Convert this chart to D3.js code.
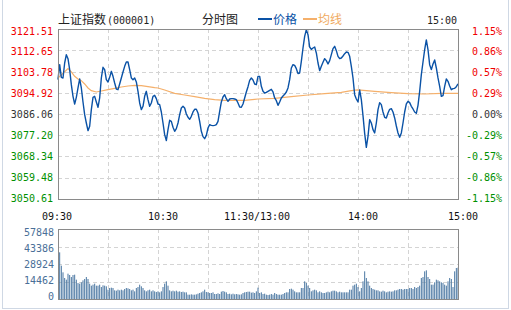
<!DOCTYPE html>
<html lang="zh-CN">
<head>
<meta charset="UTF-8">
<title>上证指数 分时图</title>
<script src="https://d3js.org/d3.v7.min.js"></script>
<style>
    body { margin: 0; padding: 0; background: #fff; }
    svg { display: block; }
    .mono { font-family: "DejaVu Sans Mono", monospace; font-size: 10px; }
    .cjk { font-family: "Noto Sans CJK SC", sans-serif; font-size: 12px; }
    .grid line { stroke: #d4d4d4; stroke-dasharray: 4,3; shape-rendering: crispEdges; }
</style>
</head>
<body>
<svg width="511" height="310"></svg>
<script>
const width = 511, height = 310;

// 昨收
const prevClose = 3086.06;

// 左轴/右轴刻度
const priceTicks = [3050.61, 3059.48, 3068.34, 3077.20, 3086.06, 3094.92, 3103.78, 3112.65, 3121.51];
const pctTicks = ["-1.15%", "-0.86%", "-0.57%", "-0.29%", "0.00%", "0.29%", "0.57%", "0.86%", "1.15%"];
const volTicks = [0, 14462, 28924, 43386, 57848];
const timeLabels = ["09:30", "10:30", "11:30/13:00", "14:00", "15:00"];
const timeLabelMinutes = [0, 60, 120, 180, 240];

// 每分钟价格 (0 = 09:30, 240 = 15:00)
const price = [
    3100.38, 3106.64, 3101.36, 3101.08, 3107.33, 3110.81, 3109.14, 3104.56, 3098.30, 3093.43,
    3090.24, 3093.02, 3096.91, 3100.66, 3096.91, 3091.07, 3085.79, 3082.31, 3079.12, 3080.93,
    3087.88, 3093.02, 3093.43, 3091.07, 3088.85, 3092.74, 3101.08, 3105.53, 3104.56, 3100.38,
    3099.41, 3101.36, 3103.86, 3101.77, 3098.99, 3096.49, 3096.21, 3098.58, 3101.08, 3103.58,
    3105.94, 3107.75, 3107.75, 3104.56, 3101.08, 3100.38, 3101.08, 3099.41, 3095.52, 3090.66,
    3087.88, 3089.27, 3093.43, 3095.52, 3092.05, 3089.27, 3090.66, 3093.43, 3093.85, 3092.46,
    3090.24, 3089.96, 3086.90, 3082.31, 3077.45, 3074.95, 3079.54, 3083.43, 3083.01, 3080.51,
    3078.84, 3079.95, 3082.31, 3085.79, 3088.57, 3089.27, 3088.57, 3086.07, 3084.68, 3083.84,
    3085.09, 3086.90, 3088.01, 3088.01, 3086.48, 3083.01, 3078.84, 3076.62, 3075.78, 3077.17,
    3080.23, 3081.62, 3081.34, 3081.20, 3081.34, 3081.62, 3083.01, 3087.18, 3091.07, 3093.16,
    3094.13, 3092.46, 3091.35, 3092.32, 3092.46, 3092.46, 3092.32, 3092.05, 3090.66, 3088.99,
    3088.85, 3090.24, 3092.74, 3095.24, 3097.46, 3100.11, 3101.08, 3100.24, 3098.58, 3098.30,
    3101.77, 3101.77, 3097.60, 3095.52, 3094.82, 3095.10, 3095.52, 3095.94, 3096.35, 3095.24,
    3092.74, 3091.63, 3089.68, 3091.07, 3092.74, 3093.57, 3094.27, 3095.24, 3096.91, 3100.38,
    3105.25, 3106.64, 3106.36, 3104.97, 3102.89, 3103.16, 3108.03, 3113.59, 3118.46, 3121.24,
    3119.15, 3114.01, 3113.03, 3113.59, 3114.01, 3111.51, 3107.33, 3104.14, 3105.94, 3107.61,
    3109.14, 3108.31, 3106.92, 3108.31, 3110.81, 3113.31, 3114.28, 3112.48, 3110.11, 3109.14,
    3109.42, 3110.25, 3111.23, 3111.92, 3111.78, 3110.11, 3105.94, 3101.08, 3094.13, 3092.32,
    3091.07, 3096.08, 3092.05, 3085.40, 3078.00, 3072.17, 3076.75, 3083.70, 3082.31, 3079.54,
    3078.14, 3082.31, 3087.88, 3090.79, 3089.96, 3086.90, 3084.68, 3084.40, 3086.48, 3088.01,
    3088.29, 3086.90, 3084.40, 3081.06, 3078.14, 3076.34, 3078.14, 3082.31, 3086.90, 3090.24,
    3091.35, 3090.79, 3089.27, 3088.15, 3086.90, 3086.34, 3089.68, 3095.52, 3102.47, 3107.75,
    3112.89, 3116.93, 3112.89, 3106.64, 3104.56, 3106.92, 3108.58, 3105.25, 3101.08, 3097.60,
    3093.43, 3093.71, 3097.60, 3100.66, 3099.69, 3097.74, 3096.21, 3096.63, 3096.77, 3097.46,
    3098.58
];

// 均线 (读取点)
const avgMinutes = [0, 6, 8, 10, 12, 14, 16, 18, 20, 23, 26, 30, 34, 38, 42, 46, 50, 54, 58, 60,
    64, 70, 76, 82, 88, 94, 100, 106, 112, 118, 120, 130, 140, 150, 160, 170, 176, 180,
    190, 200, 210, 220, 230, 240];
const avgValues = [3101.08, 3104.97, 3103.58, 3101.77, 3100.66, 3099.97, 3098.58, 3096.91, 3095.80, 3095.24,
    3095.66, 3096.21, 3096.77, 3097.32, 3097.74, 3098.02, 3097.88, 3097.46, 3097.05, 3096.91,
    3096.08, 3094.69, 3093.99, 3093.30, 3092.60, 3092.05, 3091.77, 3091.77, 3091.77, 3092.18,
    3092.32, 3092.60, 3093.30, 3093.99, 3094.55, 3095.10, 3095.80, 3096.08,
    3095.52, 3094.97, 3094.55, 3094.41, 3094.69, 3094.69];

// 每分钟成交量 (1..240)
const volume = [
    38570, 27550, 22040, 17357, 15979, 20938, 19836, 18183, 19836, 20112,
    15979, 13224, 12673, 13775, 15428, 16530, 18183, 16530, 12673, 11020,
    11847, 12673, 11020, 11020, 11847, 9918, 11296, 11020, 10469, 7714,
    9092, 9367, 9092, 7163, 6888, 7714, 7163, 7714, 7163, 8265,
    9092, 8816, 8265, 7163, 7714, 6337, 9092, 9918, 11847, 10469,
    9092, 7163, 6337, 7163, 7714, 6337, 7163, 6337, 5786, 6337,
    5510, 6337, 9918, 12673, 14602, 11020, 7163, 6337, 6888, 6337,
    6888, 6061, 6337, 5786, 6061, 5510, 5510, 3582, 3582, 3857,
    3582, 3582, 3857, 4408, 4959, 5510, 6337, 7714, 5786, 5510,
    4959, 4959, 5510, 4133, 4133, 4684, 4133, 6061, 6612, 6061,
    5510, 4133, 4408, 3857, 4408, 3857, 4133, 3857, 3582, 3857,
    4959, 5510, 5786, 6061, 6061, 5235, 5510, 4959, 6337, 9367,
    4959, 5510, 4133, 4408, 3582, 3306, 3582, 4133, 3582, 4959,
    4133, 3582, 3582, 3582, 4133, 4959, 5510, 5510, 8265, 8541,
    7714, 6337, 5510, 5510, 5510, 9092, 9092, 14602, 13224, 11020,
    9092, 6337, 7163, 7714, 7163, 5510, 6337, 5510, 4959, 4959,
    5510, 6061, 5510, 6337, 6888, 6888, 6337, 5510, 6061, 5510,
    5510, 5510, 5510, 5510, 7714, 7714, 11020, 11847, 12673, 9918,
    6337, 9092, 14602, 22867, 17357, 14602, 11020, 9092, 8265, 7714,
    7163, 7163, 6337, 6061, 6888, 6337, 5510, 6061, 6337, 6061,
    6337, 7163, 7163, 7714, 8265, 8265, 7714, 8265, 8265, 8265,
    9092, 9092, 8265, 9918, 9092, 9918, 11020, 17357, 18183, 22867,
    23693, 18183, 16530, 11847, 11847, 13775, 15979, 15428, 14602, 13775,
    13224, 11847, 11020, 14602, 17357, 16530, 9918, 22867, 25622, 25897
];

const svg = d3.select("svg");

// 外框
svg.append("rect")
    .attr("x", 2.5).attr("y", -1)
    .attr("width", 506).attr("height", 309.5)
    .attr("fill", "none").attr("stroke", "#cfd8e4");

const left = 58, right = 458;
const pTop = 29, pBottom = 199;
const vTop = 229, vBottom = 299;

const x = d3.scaleLinear().domain([0, 240]).range([left, right]);
const y = d3.scaleLinear().domain([priceTicks[0], priceTicks[8]]).range([pBottom, pTop]);
const yVol = d3.scaleLinear().domain([0, volTicks[4]]).range([vBottom, vTop]);

// 标签位置略有偏移
const yPriceLabel = d3.scaleLinear().domain(y.domain()).range([198, 31]);
const yVolLabel = d3.scaleLinear().domain(yVol.domain()).range([296, 232]);

const gridX = d3.range(30, 240, 30);

// 价格区网格
const g1 = svg.append("g").attr("class", "grid");
g1.selectAll(".h").data(priceTicks.slice(1, 8)).enter().append("line")
    .attr("x1", left).attr("x2", right)
    .attr("y1", d => Math.round(y(d)) + 0.5).attr("y2", d => Math.round(y(d)) + 0.5);
g1.selectAll(".v").data(gridX).enter().append("line")
    .attr("x1", d => x(d) + 0.5).attr("x2", d => x(d) + 0.5)
    .attr("y1", pTop).attr("y2", pBottom);

// 成交量区网格
const g2 = svg.append("g").attr("class", "grid");
g2.selectAll(".h").data(volTicks.slice(1, 4)).enter().append("line")
    .attr("x1", left).attr("x2", right)
    .attr("y1", d => Math.round(yVol(d)) + 0.5).attr("y2", d => Math.round(yVol(d)) + 0.5);
g2.selectAll(".v").data(gridX).enter().append("line")
    .attr("x1", d => x(d) + 0.5).attr("x2", d => x(d) + 0.5)
    .attr("y1", vTop).attr("y2", vBottom);

// 成交量柱
svg.append("g").selectAll("rect").data(volume).enter().append("rect")
    .attr("x", (d, i) => x(i + 1) - 0.5)
    .attr("width", 1)
    .attr("y", d => yVol(d))
    .attr("height", d => vBottom - yVol(d))
    .attr("fill", "#4b77a2");

// 均线
const avgLine = d3.line().x(d => x(d[0])).y(d => y(d[1]));
svg.append("path")
    .datum(avgMinutes.map((m, i) => [m, avgValues[i]]))
    .attr("d", avgLine)
    .attr("fill", "none")
    .attr("stroke", "#f5b06b")
    .attr("stroke-width", 1.2);

// 价格线
const priceLine = d3.line().x((d, i) => x(i)).y(d => y(d));
svg.append("path")
    .datum(price)
    .attr("d", priceLine)
    .attr("fill", "none")
    .attr("stroke", "#0a52a6")
    .attr("stroke-width", 1.4)
    .attr("stroke-linejoin", "round");

// 边框
svg.append("rect")
    .attr("x", left + 0.5).attr("y", pTop + 0.5)
    .attr("width", right - left).attr("height", pBottom - pTop)
    .attr("fill", "none").attr("stroke", "#8a8a8a");
svg.append("rect")
    .attr("x", left + 0.5).attr("y", vTop + 0.5)
    .attr("width", right - left).attr("height", vBottom - vTop)
    .attr("fill", "none").attr("stroke", "#8a8a8a");

const tickColor = v => v > prevClose + 0.001 ? "#f00000" : (v < prevClose - 0.001 ? "#009000" : "#333");

// 左轴
svg.append("g").selectAll("text").data(priceTicks).enter().append("text")
    .attr("class", "mono")
    .attr("x", 53)
    .attr("y", d => yPriceLabel(d))
    .attr("dy", "0.35em")
    .attr("text-anchor", "end")
    .attr("fill", tickColor)
    .text(d => d.toFixed(2));

// 右轴
svg.append("g").selectAll("text").data(priceTicks).enter().append("text")
    .attr("class", "mono")
    .attr("x", 502)
    .attr("y", d => yPriceLabel(d))
    .attr("dy", "0.35em")
    .attr("text-anchor", "end")
    .attr("fill", tickColor)
    .text((d, i) => pctTicks[i]);

// 成交量轴
svg.append("g").selectAll("text").data(volTicks).enter().append("text")
    .attr("class", "mono")
    .attr("x", 54)
    .attr("y", d => yVolLabel(d))
    .attr("dy", "0.35em")
    .attr("text-anchor", "end")
    .attr("fill", "#4a6f98")
    .text(d => d);

// 时间轴
const timeShift = [-1, 5, -1, 5, 5];
svg.append("g").selectAll("text").data(timeLabels).enter().append("text")
    .attr("class", "mono")
    .attr("x", (d, i) => x(timeLabelMinutes[i]) + timeShift[i])
    .attr("y", 220)
    .attr("text-anchor", "middle")
    .attr("fill", "#111")
    .text(d => d);

// 标题
const title = svg.append("text").attr("x", 58).attr("y", 24).attr("fill", "#222");
title.append("tspan").attr("class", "cjk").text("上证指数");
title.append("tspan").attr("class", "mono").attr("dx", 1).text("(000001)");

svg.append("text").attr("class", "cjk")
    .attr("x", 202).attr("y", 24).attr("fill", "#222").text("分时图");

// 图例
svg.append("line").attr("x1", 258).attr("x2", 272).attr("y1", 19).attr("y2", 19)
    .attr("stroke", "#0a52a6").attr("stroke-width", 2);
svg.append("text").attr("class", "cjk").attr("x", 273).attr("y", 24)
    .attr("fill", "#0a52a6").text("价格");
svg.append("line").attr("x1", 303).attr("x2", 317).attr("y1", 19).attr("y2", 19)
    .attr("stroke", "#f5b06b").attr("stroke-width", 2);
svg.append("text").attr("class", "cjk").attr("x", 318).attr("y", 24)
    .attr("fill", "#f0aa60").text("均线");

svg.append("text").attr("class", "mono")
    .attr("x", 457).attr("y", 24).attr("text-anchor", "end")
    .attr("fill", "#222").text("15:00");
</script>
</body>
</html>
